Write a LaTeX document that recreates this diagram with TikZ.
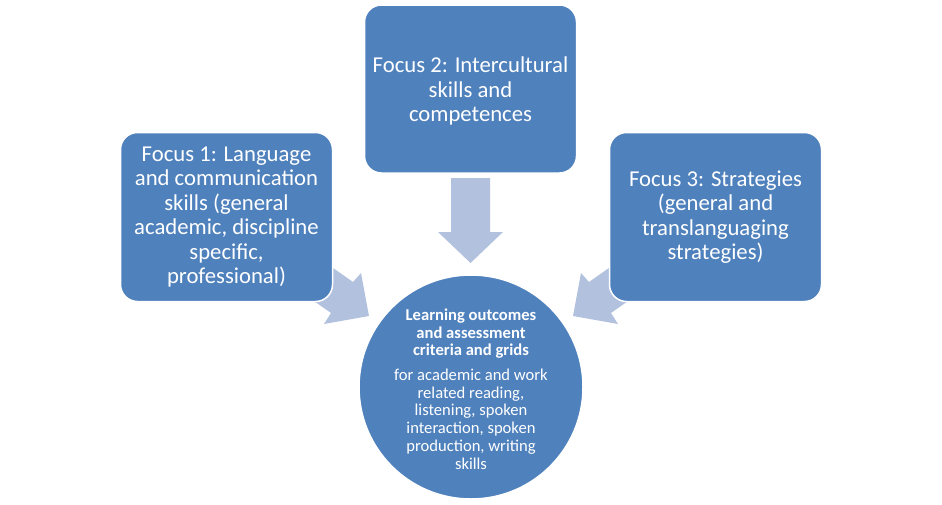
\documentclass[tikz,border=0pt]{standalone}
\usepackage{fontspec}
\setmainfont{Carlito}
\definecolor{boxblue}{HTML}{4F81BD}
\definecolor{arrowblue}{HTML}{B2C2DE}
\begin{document}
\begin{tikzpicture}[x=1pt,y=-1pt,
  focus/.style={rectangle, rounded corners=17pt, fill=boxblue, draw=white, line width=1.5pt,
    minimum width=212pt, minimum height=169pt, text=white, align=center,
    font=\fontsize{22.7}{24.4}\selectfont, inner sep=0pt},
  hub/.style={circle, fill=boxblue, draw=white, line width=1.5pt, minimum size=224pt, inner sep=0pt},
  hubtext/.style={text=white, align=center, font=\fontsize{16.6}{17.7}\selectfont, inner sep=0pt},
  blockarrow/.style={fill=arrowblue, draw=none}]
\useasboundingbox (0,0) rectangle (942,504);
% left arrow
\coordinate (la1) at (316,256);
\coordinate (la2) at (353,282);
\coordinate (la3) at (361,273);
\coordinate (la4) at (369,316);
\coordinate (la5) at (324,324);
\coordinate (la6) at (331,313);
\coordinate (la7) at (294,287);
\fill[blockarrow] (la1) -- (la2) -- (la3) -- (la4) -- (la5) -- (la6) -- (la7) -- cycle;
% right arrow (mirror)
\coordinate (ra1) at (626,256);
\coordinate (ra2) at (589,282);
\coordinate (ra3) at (581,273);
\coordinate (ra4) at (573,316);
\coordinate (ra5) at (618,324);
\coordinate (ra6) at (611,313);
\coordinate (ra7) at (648,287);
\fill[blockarrow] (ra1) -- (ra2) -- (ra3) -- (ra4) -- (ra5) -- (ra6) -- (ra7) -- cycle;
% top arrow
\coordinate (ta1) at (451,178);
\coordinate (ta2) at (490,178);
\coordinate (ta3) at (490,232);
\coordinate (ta4) at (503,232);
\coordinate (ta5) at (470.5,263);
\coordinate (ta6) at (438,232);
\coordinate (ta7) at (451,232);
\fill[blockarrow] (ta1) -- (ta2) -- (ta3) -- (ta4) -- (ta5) -- (ta6) -- (ta7) -- cycle;
% boxes
\node[focus] (f1) at (226.5,217) {Focus 1: Language\\and communication\\skills (general\\academic, discipline\\specific,\\professional)};
\node[focus, minimum height=168pt] (f2) at (470.5,89) {};
\node[text=white, align=center, font=\fontsize{22.7}{24.4}\selectfont, inner sep=0pt] (f2t) at (470.5,91) {Focus 2: Intercultural\\skills and\\competences};
\node[focus] (f3) at (715.5,217) {Focus 3: Strategies\\(general and\\translanguaging\\strategies)};
% hub
\node[hub] (c) at (471,387) {};
\node[hubtext] (ct) at (471,389) {{\bfseries Learning outcomes}\\{\bfseries and assessment}\\{\bfseries criteria and grids}\\[7pt]for academic and work\\related reading,\\listening, spoken\\interaction, spoken\\production, writing\\skills};
\end{tikzpicture}
\end{document}
